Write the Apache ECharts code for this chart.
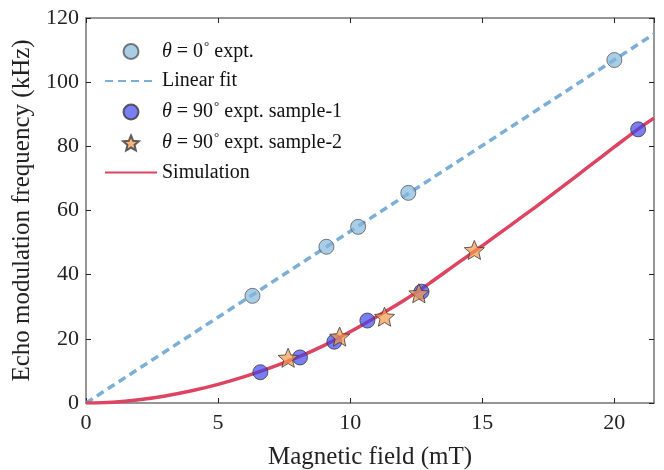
<!DOCTYPE html>
<html>
<head>
<meta charset="utf-8">
<script src="https://cdn.jsdelivr.net/npm/echarts@6/dist/echarts.min.js"></script>
<style>html,body{margin:0;padding:0;background:#fff}#c{width:664px;height:470px}</style>
</head>
<body>
<div id="c"></div>
<script>
// theta = 0 deg experiment
const para0X = [6.3, 9.1, 10.3, 12.2, 20.0];
const para0Y = [33.4, 48.7, 54.9, 65.5, 106.9];
// linear fit
const fitX = [0, 21.5];
const fitY = [0, 115];
// theta = 90 deg sample-1
const s1X = [6.6, 8.1, 9.4, 10.65, 12.7, 20.9];
const s1Y = [9.6, 14.2, 19.1, 25.7, 34.7, 85.3];
// theta = 90 deg sample-2
const s2X = [7.65, 9.6, 11.3, 12.6, 14.7];
const s2Y = [14.1, 20.7, 26.9, 34.2, 47.7];
// simulation curve
const simX = [0, 1, 2, 3, 4, 5, 6, 7, 8, 9, 10, 11, 12, 13, 14, 15, 16, 17, 18, 19, 20, 21, 21.5];
const simY = [0, 0.25, 1.0, 2.2, 3.8, 5.8, 8.2, 11.0, 14.2, 17.9, 22.2, 26.9, 31.8, 37.3, 43.2, 49.0, 55.0, 61.0, 67.2, 73.5, 79.8, 86.0, 88.8];
const xTicks = [0, 5, 10, 15, 20];
const yTicks = [0, 20, 40, 60, 80, 100, 120];

const names = ['p0', 'fit', 's1', 's2', 'sim'];
const labels = {
  p0: '{i|θ} = 0{s|°} expt.',
  fit: 'Linear fit',
  s1: '{i|θ} = 90{s|°} expt. sample-1',
  s2: '{i|θ} = 90{s|°} expt. sample-2',
  sim: 'Simulation'
};
const zip = (a, b) => a.map((v, i) => [v, b[i]]);
const star = 'path://M100,0 L126.4,63.6 L195.1,69.1 L142.8,113.9 L158.8,180.9 L100,145 L41.2,180.9 L57.2,113.9 L4.9,69.1 L73.6,63.6 Z';
const FONT = 'Liberation Serif';
const axisCol = '#737373';

const chart = echarts.init(document.getElementById('c'), null, {renderer: 'canvas'});
const xBase = {
  type: 'value', min: 0, max: 21.5, interval: 5,
  axisLine: {show: true, onZero: false, lineStyle: {color: axisCol, width: 1.5}},
  axisTick: {show: true, inside: true, length: 5, lineStyle: {color: '#222', width: 1}},
  splitLine: {show: false}
};
const yBase = {
  type: 'value', min: 0, max: 120, interval: 20,
  axisLine: {show: true, onZero: false, lineStyle: {color: axisCol, width: 1.5}},
  axisTick: {show: true, inside: true, length: 5, lineStyle: {color: '#222', width: 1}},
  splitLine: {show: false}
};
chart.setOption({
  animation: false,
  backgroundColor: '#fff',
  grid: {left: 86, right: 10, top: 18, bottom: 67, containLabel: false, outerBoundsMode: 'none'},
  xAxis: [
    Object.assign({}, xBase, {
      position: 'bottom',
      name: 'Magnetic field (mT)', nameLocation: 'middle', nameGap: 42,
      nameTextStyle: {fontFamily: FONT, fontSize: 25, color: '#222'},
      axisLabel: {show: true, fontFamily: FONT, fontSize: 22, color: '#222', margin: 9, showMaxLabel: false,
        formatter: v => xTicks.includes(v) ? String(v) : ''}
    }),
    Object.assign({}, xBase, {position: 'top', axisLabel: {show: false}})
  ],
  yAxis: [
    Object.assign({}, yBase, {
      position: 'left',
      name: 'Echo modulation frequency (kHz)', nameLocation: 'middle', nameGap: 50,
      nameTextStyle: {fontFamily: FONT, fontSize: 25, color: '#222'},
      axisLabel: {show: true, fontFamily: FONT, fontSize: 22, color: '#222', margin: 7,
        formatter: v => yTicks.includes(v) ? String(v) : ''}
    }),
    Object.assign({}, yBase, {position: 'right', axisLabel: {show: false}})
  ],
  legend: {
    orient: 'vertical', left: 104, top: 40, itemWidth: 52, itemHeight: 15, itemGap: 9.5, padding: 0,
    data: names.map(n => (n === 'fit' || n === 'sim') ? {name: n, itemStyle: {opacity: 0}} : {name: n}),
    formatter: n => labels[n],
    textStyle: {fontFamily: FONT, fontSize: 20, color: '#111',
      rich: {i: {fontFamily: FONT, fontSize: 20, fontStyle: 'italic', color: '#111'},
             s: {fontFamily: FONT, fontSize: 13, color: '#111', verticalAlign: 'top', padding: [0, 0, 10, 1]}}}
  },
  series: [
    {name: 'fit', type: 'line', data: zip(fitX, fitY), symbol: 'none', z: 2,
      lineStyle: {color: '#7bafd8', width: 3.5, type: [8, 5]}, itemStyle: {color: '#7bafd8'}},
    {name: 'sim', type: 'line', data: zip(simX, simY), symbol: 'none', smooth: 0.3, z: 2,
      lineStyle: {color: '#dc4461', width: 3.5}, itemStyle: {color: '#dc4461'}},
    {name: 'p0', type: 'scatter', data: zip(para0X, para0Y), symbol: 'circle', symbolSize: 15, z: 3,
      itemStyle: {color: 'rgba(130,182,220,0.85)', borderColor: '#5a5a5a', borderWidth: 1}},
    {name: 's1', type: 'scatter', data: zip(s1X, s1Y), symbol: 'circle', symbolSize: 15, z: 3,
      itemStyle: {color: 'rgba(60,66,238,0.85)', borderColor: '#3a3a3a', borderWidth: 1}},
    {name: 's2', type: 'scatter', data: zip(s2X, s2Y), symbol: star, symbolKeepAspect: true, symbolSize: 20, z: 4,
      itemStyle: {color: 'rgba(248,152,72,0.88)', borderColor: '#3a3a3a', borderWidth: 1}}
  ]
});
</script>
</body>
</html>
